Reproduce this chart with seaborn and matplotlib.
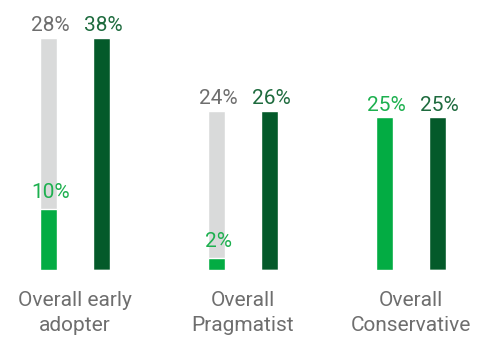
import pandas as pd
import seaborn as sns
import matplotlib.pyplot as plt

# values
groups = ['Overall early\nadopter', 'Overall\nPragmatist', 'Overall\nConservative']
green_share = [10, 2, 25]      # bright green segment
grey_share = [28, 24, 0]       # light grey segment on top of the green one
dark_share = [38, 26, 25]      # dark green bar

GREY = '#D9DADA'
GREEN = '#03AC43'
DARK = '#045A2A'

sns.set_theme(style='white')
plt.rcParams['font.family'] = ['Roboto', 'DejaVu Sans']
plt.rcParams['font.weight'] = 'normal'

totals = pd.DataFrame({
    'group': groups * 2,
    'series': ['a'] * 3 + ['b'] * 3,
    'value': [g + r for g, r in zip(green_share, grey_share)] + dark_share,
})
greens = pd.DataFrame({
    'group': groups * 2,
    'series': ['a'] * 3 + ['b'] * 3,
    'value': green_share + [0, 0, 0],
})

fig = plt.figure(figsize=(4.78, 3.38), dpi=100)
ax = fig.add_axes([0, 68 / 338, 1, 270 / 338])

kw = dict(x='group', y='value', hue='series', width=0.632, gap=0.68,
          legend=False, saturation=1, ax=ax)
sns.barplot(data=totals, palette={'a': GREY, 'b': DARK}, **kw)
sns.barplot(data=greens, palette={'a': GREEN, 'b': DARK}, **kw)

grey_bars, dark_bars, green_bars = ax.containers[0], ax.containers[1], ax.containers[2]

def label(bar, text, color, pad):
    x = bar.get_x() + bar.get_width() / 2
    ax.annotate(text, (x, bar.get_height()), xytext=(1.5, pad),
                textcoords='offset points', ha='center', va='bottom',
                color=color, fontsize=15)

for i in range(3):
    if grey_share[i]:
        label(grey_bars[i], f'{grey_share[i]}%', '#6E6E6E', 2)
        label(green_bars[i], f'{green_share[i]}%', '#1DB04F', 5)
    else:
        label(green_bars[i], f'{green_share[i]}%', '#1DB04F', 2)
    label(dark_bars[i], f'{dark_share[i]}%', '#1E6B3E', 2)

ax.set_xlim(-75 / 168, 403 / 168)
ax.set_ylim(0, 38 + 38 / 6.105)
ax.set_xlabel('')
ax.set_ylabel('')
ax.set_yticks([])
ax.tick_params(axis='x', length=0, pad=15, labelsize=15, labelcolor='#6E6E6E')
for t in ax.get_xticklabels():
    t.set_multialignment('center')
    t.set_linespacing(1.4)
sns.despine(left=True, bottom=True)

fig.savefig('out.png', dpi=100)
